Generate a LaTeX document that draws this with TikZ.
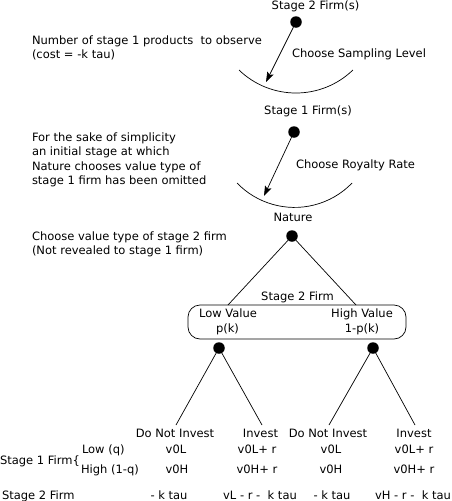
\documentclass[tikz,border=0pt]{standalone}
\usepackage{fontspec}
\setmainfont{DejaVu Sans}
\usetikzlibrary{arrows.meta}
\begin{document}
\begin{tikzpicture}[x=1pt,y=-1pt,
  every node/.style={inner sep=0pt, outer sep=0pt, font=\fontsize{11.5}{14}\selectfont},
  txt/.style={anchor=base},
  ltxt/.style={anchor=base west},
  dot/.style={circle, fill=black, minimum size=11.5pt},
  edge/.style={line width=0.7pt},
  arr/.style={edge, -{Stealth[length=10pt, width=7pt, inset=2pt]}},
  valbox/.style={draw, line width=0.7pt, rounded corners=12pt, minimum width=218pt, minimum height=34pt}]
\useasboundingbox (0,0) rectangle (451,501);

% top: stage 2 firm chooses sampling level
\node[txt] (s2f) at (315.5,9) {Stage 2 Firm(s)};
\node[dot] (d1) at (296,22) {};
\coordinate (t1) at (266,82);
\coordinate (a1) at (239,70);
\draw[edge] (a1) arc[start angle=226, end angle=314, radius=82pt];
\draw[arr] (d1) -- (t1);
\node[ltxt] (csl) at (292,57) {Choose Sampling Level};
\node[ltxt] (n1) at (32,44) {Number of stage 1 products \ to observe};
\node[ltxt] (n2) at (32,58) {(cost = -k tau)};

% stage 1 firm chooses royalty rate
\node[txt] (s1f) at (308,114) {Stage 1 Firm(s)};
\node[dot] (d2) at (294,132) {};
\coordinate (t2) at (264,196);
\coordinate (a2) at (237,183);
\draw[edge] (a2) arc[start angle=224, end angle=316, radius=80pt];
\draw[arr] (d2) -- (t2);
\node[ltxt] (crr) at (296,168) {Choose Royalty Rate};
\node[ltxt] (f1) at (32,141) {For the sake of simplicity};
\node[ltxt] (f2) at (32,155.6) {an initial stage at which};
\node[ltxt] (f3) at (32,170.2) {Nature chooses value type of};
\node[ltxt] (f4) at (32,184.8) {stage 1 firm has been omitted};

% nature
\node[txt] (nat) at (293,221) {Nature};
\node[dot] (d3) at (292,236) {};
\node[ltxt] (c1) at (32,240) {Choose value type of stage 2 firm};
\node[ltxt] (c2) at (32,254.6) {(Not revealed to stage 1 firm)};
\coordinate (b1) at (228,305);
\coordinate (b2) at (356,305);
\draw[edge] (d3) -- (b1);
\draw[edge] (d3) -- (b2);

% stage 2 firm type box
\node[txt] (s2box) at (297.5,300) {Stage 2 Firm};
\node[valbox] (box) at (297,322) {};
\node[txt] (lv) at (228,317) {Low Value};
\node[txt] (pk) at (227.5,332) {p(k)};
\node[txt] (hv) at (362,317) {High Value};
\node[txt] (qk) at (362,332) {1-p(k)};

% investment decisions
\node[dot] (d4) at (219,348) {};
\node[dot] (d5) at (373,348) {};
\coordinate (l1) at (176,425);
\coordinate (l2) at (262,425);
\coordinate (l3) at (329,425);
\coordinate (l4) at (415,425);
\draw[edge] (d4) -- (l1);
\draw[edge] (d4) -- (l2);
\draw[edge] (d5) -- (l3);
\draw[edge] (d5) -- (l4);

\node[txt] (h1) at (175,437) {Do Not Invest};
\node[txt] (h2) at (260.5,437) {Invest};
\node[txt] (h3) at (328,437) {Do Not Invest};
\node[txt] (h4) at (414,437) {Invest};

% payoffs
\node[ltxt] (s1l) at (0,464) {Stage 1 Firm\{};
\node[ltxt] (lq) at (82,453) {Low (q)};
\node[ltxt] (hq) at (81,473) {High (1-q)};
\node[txt] (p11) at (176,453) {v0L};
\node[txt] (p12) at (257,453) {v0L+ r};
\node[txt] (p13) at (331,453) {v0L};
\node[txt] (p14) at (414,453) {v0L+ r};
\node[txt] (p21) at (177,473) {v0H};
\node[txt] (p22) at (257,473) {v0H+ r};
\node[txt] (p23) at (331,473) {v0H};
\node[txt] (p24) at (414,473) {v0H+ r};

\node[ltxt] (s2l) at (2,499) {Stage 2 Firm};
\node[txt] (q1) at (169,499) {- k tau};
\node[txt] (q2) at (260,499) {vL - r - \ k tau};
\node[txt] (q3) at (332,499) {- k tau};
\node[txt] (q4) at (413,499) {vH - r - \ k tau};
\end{tikzpicture}
\end{document}
